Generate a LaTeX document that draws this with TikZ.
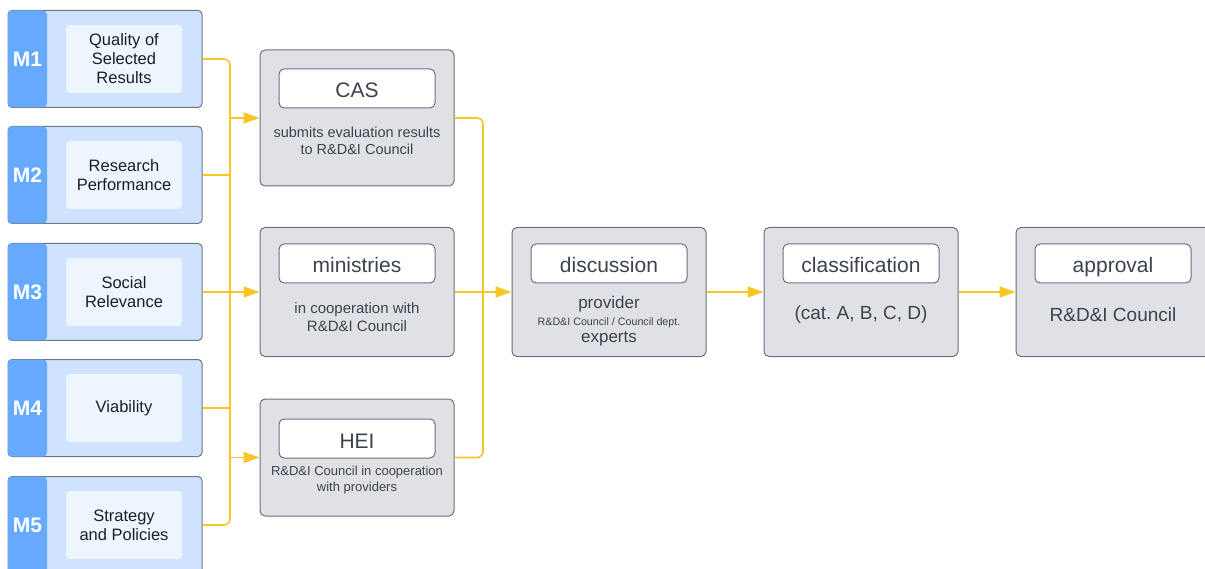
\documentclass[tikz,border=0pt]{standalone}
\usepackage{fontspec}
\setmainfont{Liberation Sans}
\usetikzlibrary{arrows.meta}
\frenchspacing

\definecolor{mstrip}{HTML}{66AAFF}
\definecolor{mfill}{HTML}{CFE3FF}
\definecolor{minner}{HTML}{EDF5FF}
\definecolor{mline}{HTML}{6E7681}
\definecolor{mtxt}{HTML}{1E1E1E}
\definecolor{gfill}{HTML}{DFE1E6}
\definecolor{gline}{HTML}{6B7079}
\definecolor{gtxt}{HTML}{3D434C}
\definecolor{flow}{HTML}{F6C526}

\tikzset{
  mbox/.style={draw=mline, fill=mfill, line width=1pt, rounded corners=4pt,
    minimum width=194pt, minimum height=97pt},
  mtag/.style={fill=mstrip, rounded corners=4pt, minimum width=39pt,
    minimum height=97pt, inner sep=0pt, text=white,
    font=\fontsize{21}{21}\selectfont\bfseries},
  mtext/.style={fill=minner, rounded corners=4pt, minimum width=116pt,
    minimum height=68pt, align=center, text=mtxt,
    font=\fontsize{16.5}{19}\selectfont},
  stepbox/.style={draw=gline, fill=gfill, line width=1pt, rounded corners=5pt,
    minimum width=194pt, minimum height=129pt},
  headbox/.style={draw=gline, fill=white, line width=1pt, rounded corners=5pt,
    minimum width=156pt, minimum height=39pt, text height=19pt, text depth=0pt,
    text=gtxt, font=\fontsize{21}{21}\selectfont},
  bodytext/.style={align=center, text=gtxt, inner sep=0pt},
  feed/.style={draw=flow, line width=1.6pt},
  feedarrow/.style={feed, -{Triangle[length=16pt,width=11pt]}},
}

\begin{document}
\begin{tikzpicture}[x=1pt,y=-1pt]
% 図の範囲
\useasboundingbox (0,0) rectangle (1205,569);
\clip (0,0) rectangle (1205,569);

% 左側のモジュール M1〜M5
\foreach \i/\my/\txt in {1/59/{Quality of\\Selected\\Results},
    2/175/{Research\\Performance}, 3/292/{Social\\Relevance},
    4/408/{Viability}, 5/525/{Strategy\\and Policies}} {
  \node[mbox] (m\i) at (105,\my) {};
  \node[mtag] (m\i tag) at (27.5,\my) {M\i};
  \node[mtext] (m\i txt) at (124,\my) {\txt};
}

% 中央の三つの評価者
\node[stepbox, minimum height=136pt] (cas) at (357,118) {};
\node[headbox] (cashead) at (357,88.5) {CAS};
\node[bodytext, font=\fontsize{14.5}{17}\selectfont] (casbody) at (357,140.5)
  {submits evaluation results\\to R\&D\&I Council};

\node[stepbox] (min) at (357,292) {};
\node[headbox] (minhead) at (357,263.5) {ministries};
\node[bodytext, font=\fontsize{15}{18}\selectfont] (minbody) at (357,317)
  {in cooperation with\\R\&D\&I Council};

\node[stepbox, minimum height=117pt] (hei) at (357,457.5) {};
\node[headbox] (heihead) at (357,438.5) {HEI};
\node[bodytext, font=\fontsize{13}{16}\selectfont] (heibody) at (357,480)
  {R\&D\&I Council in cooperation\\with providers};

% 右側の流れ
\node[stepbox] (disc) at (609,292) {};
\node[headbox] (dischead) at (609,263.5) {discussion};
\node[bodytext, font=\fontsize{17}{17}\selectfont] (discbody) at (609,321)
  {provider\\
   {\fontsize{10.7}{12}\selectfont R\&D\&I Council / Council dept.}\\
   experts};

\node[stepbox] (cls) at (861,292) {};
\node[headbox] (clshead) at (861,263.5) {classification};
\node[bodytext, font=\fontsize{19}{19}\selectfont] (clsbody) at (861,315)
  {(cat. A, B, C, D)};

\node[stepbox] (appr) at (1113,292) {};
\node[headbox] (apprhead) at (1113,263.5) {approval};
\node[bodytext, font=\fontsize{19}{19}\selectfont] (apprbody) at (1113,315)
  {R\&D\&I Council};

% 黄色の接続線
\coordinate (lbus) at (230,0);
\coordinate (rbus) at (483,0);
\draw[feed, rounded corners=6pt] (m1.east) -- (m1.east -| lbus)
  -- (m5.east -| lbus) -- (m5.east);
\foreach \i in {2,3,4}
  \draw[feed] (m\i.east) -- (m\i.east -| lbus);
\foreach \t in {cas,min,hei}
  \draw[feedarrow] (\t.west -| lbus) -- (\t.west);

\draw[feed, rounded corners=6pt] (cas.east) -- (cas.east -| rbus)
  -- (hei.east -| rbus) -- (hei.east);
\draw[feed] (min.east) -- (min.east -| rbus);
\draw[feedarrow] (min.east -| rbus) -- (disc.west);
\draw[feedarrow] (disc.east) -- (cls.west);
\draw[feedarrow] (cls.east) -- (appr.west);
\end{tikzpicture}
\end{document}
